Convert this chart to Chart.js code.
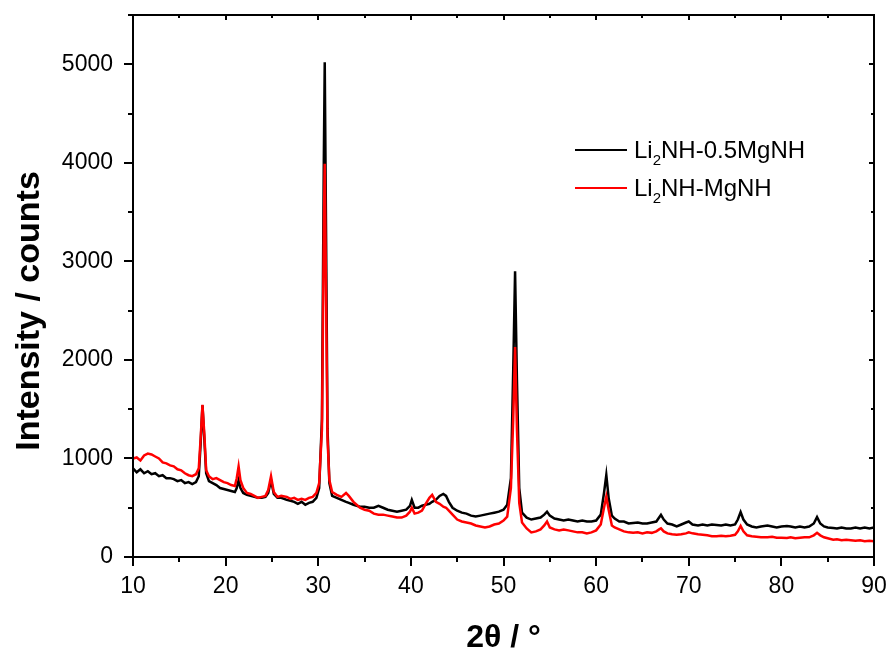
<!DOCTYPE html>
<html>
<head>
<meta charset="utf-8">
<script src="https://cdn.jsdelivr.net/npm/chart.js@4"></script>
<style>
  html, body { margin: 0; padding: 0; background: #fff; }
  #wrap { width: 890px; height: 655px; }
</style>
</head>
<body>
<div id="wrap"><canvas id="xrd" width="890" height="655"></canvas></div>
<script>
// 2theta positions (deg) shared by both patterns
const angles = [
  10.0, 10.4, 10.8, 11.2, 11.6, 12.0, 12.4, 12.8, 13.2, 13.6, 14.0, 14.4, 14.8, 15.2, 15.6, 16.0,
  16.4, 16.8, 17.1, 17.3, 17.5, 17.7, 17.9, 18.2, 18.6, 19.0, 19.4, 19.8, 20.2, 20.6, 21.0, 21.2,
  21.4, 21.6, 21.9, 22.3, 22.7, 23.1, 23.5, 23.9, 24.3, 24.6, 24.9, 25.2, 25.6, 26.0, 26.6, 27.0,
  27.4, 27.8, 28.2, 28.6, 29.0, 29.4, 29.8, 30.1, 30.4, 30.6, 30.7, 30.85, 31.0, 31.2, 31.5, 32.0,
  32.5, 33.0, 33.3, 33.8, 34.5, 35.0, 35.5, 36.0, 36.5, 37.0, 37.5, 38.0, 38.5, 39.0, 39.5, 39.9,
  40.1, 40.4, 40.8, 41.2, 41.6, 42.0, 42.3, 42.7, 43.1, 43.5, 43.8, 44.1, 44.5, 45.0, 45.5, 46.0,
  46.5, 47.0, 47.5, 48.0, 48.5, 49.0, 49.5, 50.0, 50.4, 50.8, 51.05, 51.25, 51.45, 51.7, 52.0, 52.5,
  53.0, 53.5, 54.0, 54.4, 54.7, 55.0, 55.5, 56.0, 56.5, 57.0, 57.5, 58.0, 58.5, 59.0, 59.5, 60.0,
  60.5, 60.85, 61.1, 61.35, 61.7, 62.0, 62.5, 63.0, 63.5, 64.0, 64.5, 65.0, 65.5, 66.0, 66.5, 66.8,
  67.0, 67.3, 67.7, 68.2, 68.7, 69.2, 69.7, 70.0, 70.4, 71.0, 71.5, 72.0, 72.5, 73.0, 73.5, 74.0,
  74.5, 75.0, 75.3, 75.6, 75.9, 76.3, 76.8, 77.3, 77.8, 78.5, 79.0, 79.5, 80.0, 80.6, 81.0, 81.5,
  82.0, 82.5, 83.0, 83.5, 83.85, 84.2, 84.6, 85.0, 85.6, 86.0, 86.5, 87.0, 87.5, 88.0, 88.5, 89.0,
  89.5, 90.0
];

// Li2NH-0.5MgNH (black)
const halfMg = [
  900, 860, 890, 850, 870, 840, 850, 820, 830, 800, 800, 790, 770, 780, 750, 760,
  740, 760, 820, 1150, 1540, 1200, 850, 770, 750, 730, 700, 690, 680, 670, 660, 700,
  780, 700, 650, 630, 620, 610, 600, 600, 610, 650, 780, 640, 600, 600, 580, 570,
  560, 540, 560, 530, 550, 560, 600, 700, 1400, 4000, 5020, 3200, 1300, 750, 620, 600,
  580, 560, 550, 530, 510, 510, 500, 500, 520, 500, 480, 470, 460, 470, 480, 520,
  580, 500, 500, 520, 530, 540, 560, 580, 620, 640, 620, 560, 500, 470, 450, 440,
  420, 410, 420, 430, 440, 450, 460, 480, 530, 800, 1900, 2900, 1800, 700, 450, 400,
  380, 390, 400, 430, 460, 420, 390, 380, 370, 380, 370, 360, 370, 360, 360, 370,
  430, 650, 833, 600, 420, 390, 360, 360, 340, 345, 350, 340, 340, 350, 360, 400,
  427, 380, 340, 330, 310, 330, 350, 360, 330, 320, 330, 320, 330, 325, 320, 330,
  320, 330, 380, 455, 380, 330, 310, 300, 310, 320, 310, 300, 310, 315, 310, 300,
  310, 300, 310, 340, 405, 340, 310, 300, 294, 290, 300, 290, 290, 300, 290, 300,
  290, 300
];

// Li2NH-MgNH (red)
const fullMg = [
  1000, 1010, 980, 1030, 1050, 1040, 1020, 1000, 960, 950, 930, 920, 890, 880, 850, 830,
  820, 840, 900, 1200, 1545, 1250, 880, 820, 790, 800, 780, 760, 750, 730, 720, 800,
  920, 780, 700, 650, 640, 620, 600, 610, 620, 680, 820, 660, 610, 620, 610, 590,
  600, 580, 590, 580, 600, 610, 650, 750, 1300, 3300, 3990, 2600, 1200, 780, 660, 630,
  610, 650, 620, 560, 500, 480, 470, 440, 430, 430, 420, 410, 400, 400, 420, 460,
  500, 440, 450, 470, 540, 600, 630, 560, 540, 510, 500, 470, 430, 380, 360, 350,
  340, 320, 310, 300, 310, 330, 340, 370, 410, 700, 1400, 2130, 1300, 550, 350, 290,
  250, 260, 280, 320, 360, 300, 280, 270, 280, 270, 260, 250, 250, 240, 250, 270,
  330, 500, 613, 480, 320, 300, 280, 260, 250, 245, 250, 240, 250, 245, 260, 280,
  290, 260, 240, 230, 225, 230, 240, 250, 240, 230, 225, 220, 210, 210, 215, 210,
  215, 225, 260, 315, 260, 220, 210, 205, 200, 200, 205, 195, 195, 193, 200, 190,
  195, 200, 200, 220, 245, 220, 200, 190, 175, 180, 170, 175, 170, 165, 170, 160,
  165, 160
];

const xTickValues = [10, 20, 30, 40, 50, 60, 70, 80, 90];
const yTickValues = [0, 1000, 2000, 3000, 4000, 5000];

const FONT = "'Liberation Sans', Arial, Helvetica, sans-serif";

function toPoints(values) {
  return angles.map((a, i) => ({ x: a, y: values[i] }));
}

// frame, outward major/minor ticks on left/bottom, inward ticks on top/right,
// axis titles and legend (legend needs a subscript)
const framePlugin = {
  id: 'frame',
  afterDraw(chart) {
    const ctx = chart.ctx;
    const area = chart.chartArea;
    const xs = chart.scales.x;
    const ys = chart.scales.y;
    ctx.save();
    ctx.strokeStyle = '#000';
    ctx.lineWidth = 2;
    ctx.strokeRect(area.left, area.top, area.right - area.left, area.bottom - area.top);

    ctx.beginPath();
    for (let v = 10; v <= 90; v += 5) {
      const px = Math.round(xs.getPixelForValue(v));
      const major = v % 10 === 0;
      ctx.moveTo(px, area.bottom);
      ctx.lineTo(px, area.bottom + (major ? 9 : 5));
      ctx.moveTo(px, area.top);
      ctx.lineTo(px, area.top + (major ? 5 : 3));
    }
    for (let v = 0; v <= 5500; v += 500) {
      const py = Math.round(ys.getPixelForValue(v));
      const major = v % 1000 === 0;
      ctx.moveTo(area.left, py);
      ctx.lineTo(area.left - (major ? 9 : 5), py);
      ctx.moveTo(area.right, py);
      ctx.lineTo(area.right - (major ? 5 : 3), py);
    }
    ctx.stroke();

    // axis titles
    ctx.fillStyle = '#000';
    ctx.textAlign = 'center';
    ctx.textBaseline = 'middle';
    ctx.font = 'bold 32px ' + FONT;
    ctx.fillText('2θ / °', (area.left + area.right) / 2, 638);
    ctx.save();
    ctx.translate(30, 311);
    ctx.rotate(-Math.PI / 2);
    ctx.font = 'bold 34px ' + FONT;
    ctx.fillText('Intensity / counts', 0, 0);
    ctx.restore();

    // legend with subscript
    ctx.textAlign = 'left';
    ctx.textBaseline = 'alphabetic';
    const items = [
      { color: '#000000', pre: 'Li', sub: '2', post: 'NH-0.5MgNH', y: 150 },
      { color: '#ff0000', pre: 'Li', sub: '2', post: 'NH-MgNH', y: 188 }
    ];
    items.forEach(it => {
      ctx.strokeStyle = it.color;
      ctx.lineWidth = 2;
      ctx.beginPath();
      ctx.moveTo(575, it.y);
      ctx.lineTo(627, it.y);
      ctx.stroke();
      let x = 634;
      const base = it.y + 8;
      ctx.font = '24px ' + FONT;
      ctx.fillText(it.pre, x, base);
      x += ctx.measureText(it.pre).width;
      ctx.font = '15px ' + FONT;
      ctx.fillText(it.sub, x, base + 7);
      x += ctx.measureText(it.sub).width;
      ctx.font = '24px ' + FONT;
      ctx.fillText(it.post, x, base);
    });
    ctx.restore();
  }
};

new Chart(document.getElementById('xrd'), {
  type: 'line',
  data: {
    datasets: [
      {
        label: 'Li2NH-0.5MgNH',
        data: toPoints(halfMg),
        borderColor: '#000000',
        borderWidth: 2.5,
        pointRadius: 0,
        tension: 0,
        order: 1
      },
      {
        label: 'Li2NH-MgNH',
        data: toPoints(fullMg),
        borderColor: '#ff0000',
        borderWidth: 2.5,
        pointRadius: 0,
        tension: 0,
        order: 0
      }
    ]
  },
  options: {
    responsive: false,
    animation: false,
    layout: { padding: { left: 0, right: 16, top: 15, bottom: 0 } },
    plugins: {
      legend: { display: false },
      tooltip: { enabled: false }
    },
    scales: {
      x: {
        type: 'linear',
        min: 10,
        max: 90,
        afterFit(scale) {
          scale.height = 98;
          scale.paddingLeft = 0;
          scale.paddingRight = 0;
        },
        afterBuildTicks(scale) { scale.ticks = xTickValues.map(v => ({ value: v })); },
        grid: { display: false, drawTicks: false },
        border: { display: false },
        ticks: {
          padding: 16,
          color: '#000',
          font: { family: FONT, size: 23 },
          maxRotation: 0,
          callback: v => String(v)
        }
      },
      y: {
        type: 'linear',
        min: 0,
        max: 5500,
        afterFit(scale) {
          scale.width = 133;
          scale.paddingTop = 0;
          scale.paddingBottom = 0;
        },
        afterBuildTicks(scale) { scale.ticks = yTickValues.map(v => ({ value: v })); },
        grid: { display: false, drawTicks: false },
        border: { display: false },
        ticks: {
          padding: 20,
          color: '#000',
          font: { family: FONT, size: 23 },
          callback: v => String(v)
        }
      }
    }
  },
  plugins: [framePlugin]
});
</script>
</body>
</html>
